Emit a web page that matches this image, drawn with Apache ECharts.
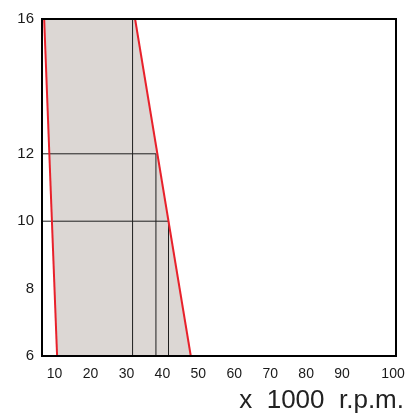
<!DOCTYPE html>
<html>
<head>
<meta charset="utf-8">
<script src="https://cdn.jsdelivr.net/npm/echarts@6/dist/echarts.min.js"></script>
<style>
html,body{margin:0;padding:0;background:#fff;}
#c{width:416px;height:414px;}
</style>
</head>
<body>
<div id="c"></div>
<script>
// Axis tick labels
const xTickValues = [10, 20, 30, 40, 50, 60, 70, 80, 90, 100];
const yTickValues = [6, 8, 10, 12, 16];
const xRange = [6.5, 105];
const yRange = [6, 16];

// Boundary lines (x in 1000 rpm, y value)
const leftEdge = [[7.1, 16], [10.7, 6]];
const rightEdge = [[32.4, 16], [47.9, 6]];

// Reference lines
const vLine1 = [[31.7, 16], [31.7, 6]];
const vLine2 = [[38.2, 12], [38.2, 6]];
const vLine3 = [[41.7, 10], [41.7, 6]];
const hLine12 = [[6.5, 12], [38.2, 12]];
const hLine10 = [[6.5, 10], [41.7, 10]];

const chart = echarts.init(document.getElementById('c'), null, {renderer: 'canvas'});

const lineStyleBlack = {color: '#1e1e1e', width: 1};
function refLine(data) {
  return {type: 'line', data: data, symbol: 'none', lineStyle: lineStyleBlack, silent: true, z: 3, animation: false};
}
function redLine(data) {
  return {type: 'line', data: data, symbol: 'none', lineStyle: {color: '#e8212b', width: 2}, silent: true, z: 4, animation: false};
}

chart.setOption({
  animation: false,
  grid: {left: 42, right: 20, top: 19, bottom: 58, show: true, borderColor: '#000', borderWidth: 2, backgroundColor: 'transparent', z: 10},
  xAxis: {
    type: 'value', min: xRange[0], max: xRange[1],
    axisLine: {show: false}, axisTick: {show: false}, splitLine: {show: false},
    axisLabel: {
      customValues: xTickValues,
      margin: 11,
      fontFamily: 'Liberation Sans, Arial, sans-serif', fontSize: 14, color: '#1a1a1a',
      formatter: function (v) { return v === 100 ? '{r|100}' : String(v); },
      rich: {r: {fontFamily: 'Liberation Sans, Arial, sans-serif', fontSize: 14, color: '#1a1a1a', padding: [0, 0, 0, 30]}}
    }
  },
  yAxis: {
    type: 'value', min: yRange[0], max: yRange[1],
    axisLine: {show: false}, axisTick: {show: false}, splitLine: {show: false},
    axisLabel: {
      customValues: yTickValues,
      margin: 8,
      fontFamily: 'Liberation Sans, Arial, sans-serif', fontSize: 15, color: '#1a1a1a'
    }
  },
  graphic: [{
    type: 'text', right: 12, top: 388,
    style: {text: 'x  1000  r.p.m.', fontFamily: 'Liberation Sans, Arial, sans-serif', fontSize: 26, fill: '#222'}
  }],
  series: [
    {
      type: 'custom', silent: true, z: 1,
      data: [0],
      renderItem: function (params, api) {
        const pts = [leftEdge[0], rightEdge[0], rightEdge[1], leftEdge[1]].map(p => api.coord(p));
        return {type: 'polygon', shape: {points: pts}, style: {fill: '#dcd7d4'}};
      }
    },
    refLine(vLine1), refLine(vLine2), refLine(vLine3), refLine(hLine12), refLine(hLine10),
    redLine(leftEdge), redLine(rightEdge)
  ]
});
</script>
</body>
</html>
